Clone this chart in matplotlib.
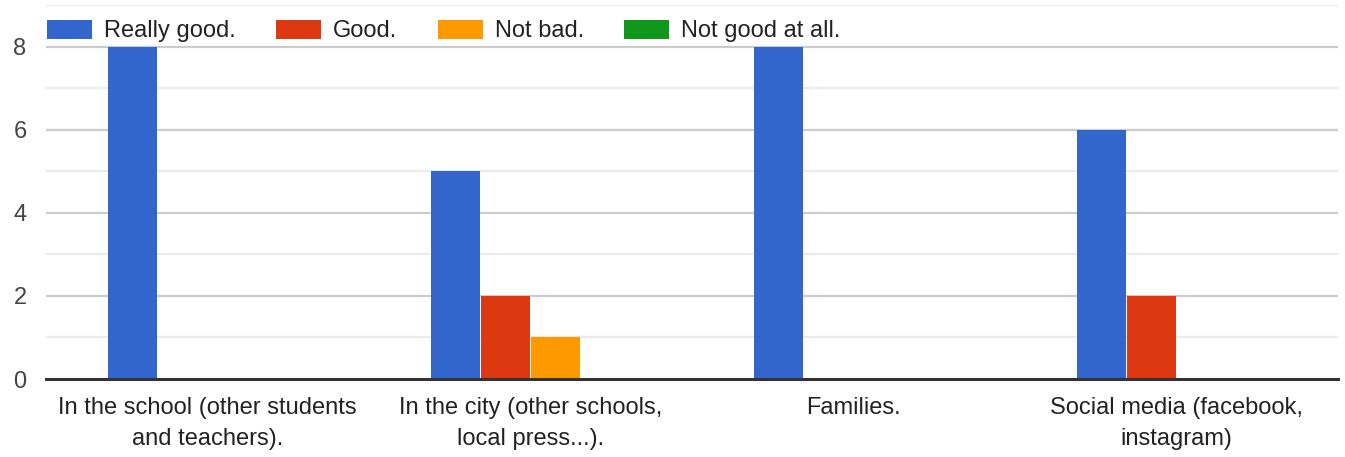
import matplotlib
matplotlib.use("Agg")
import matplotlib.pyplot as plt
import numpy as np

categories = ["In the school (other students\nand teachers).",
              "In the city (other schools,\nlocal press...).",
              "Families.",
              "Social media (facebook,\ninstagram)"]
series_names = ["Really good.", "Good.", "Not bad.", "Not good at all."]
really_good = [8, 5, 8, 6]
good = [0, 2, 0, 2]
not_bad = [0, 1, 0, 0]
not_good_at_all = [0, 0, 0, 0]
colors = ["#3366cc", "#dc3912", "#ff9900", "#109618"]
yticks = [0, 2, 4, 6, 8]

plt.rcParams['font.family'] = ['Liberation Sans', 'DejaVu Sans']

fig = plt.figure(figsize=(13.45, 4.57), dpi=100)
ax = fig.add_axes([46/1345, 1-379/457, (1338-46)/1345, (379-5)/457])

x = np.arange(len(categories))
step = 50/323
width = 49/323
all_series = [really_good, good, not_bad, not_good_at_all]
for i, (vals, name, c) in enumerate(zip(all_series, series_names, colors)):
    ax.bar(x + (i - 1.5) * step, vals, width=width, color=c, label=name, zorder=3)

ax.set_xlim(-0.5, len(categories) - 0.5)
ax.set_ylim(0, 9)
for v in range(1, 10):
    if v % 2 == 0:
        ax.axhline(v, color="#cccccc", lw=1.6, zorder=1)
    else:
        ax.axhline(v, color="#ebebeb", lw=1.6, zorder=1)
ax.axhline(0, color="#333333", lw=2.2, zorder=4, clip_on=False)

ax.set_yticks(yticks)
ax.set_yticklabels([str(t) for t in yticks])
ax.set_xticks(x)
ax.set_xticklabels(categories, linespacing=1.55)
ax.tick_params(axis='y', length=0, pad=14, labelsize=17, labelcolor="#444444")
ax.tick_params(axis='x', length=0, pad=13, labelsize=17, labelcolor="#222222")
for s in ax.spines.values():
    s.set_visible(False)

leg = fig.legend(loc="upper left", bbox_to_anchor=(47/1345, 1-20/457), ncol=4,
                 frameon=False, fontsize=17, handlelength=1.92, handleheight=0.83,
                 handletextpad=0.5, columnspacing=1.7, borderpad=0, borderaxespad=0)
for t in leg.get_texts():
    t.set_color("#222222")

fig.savefig("out.png", dpi=100)
